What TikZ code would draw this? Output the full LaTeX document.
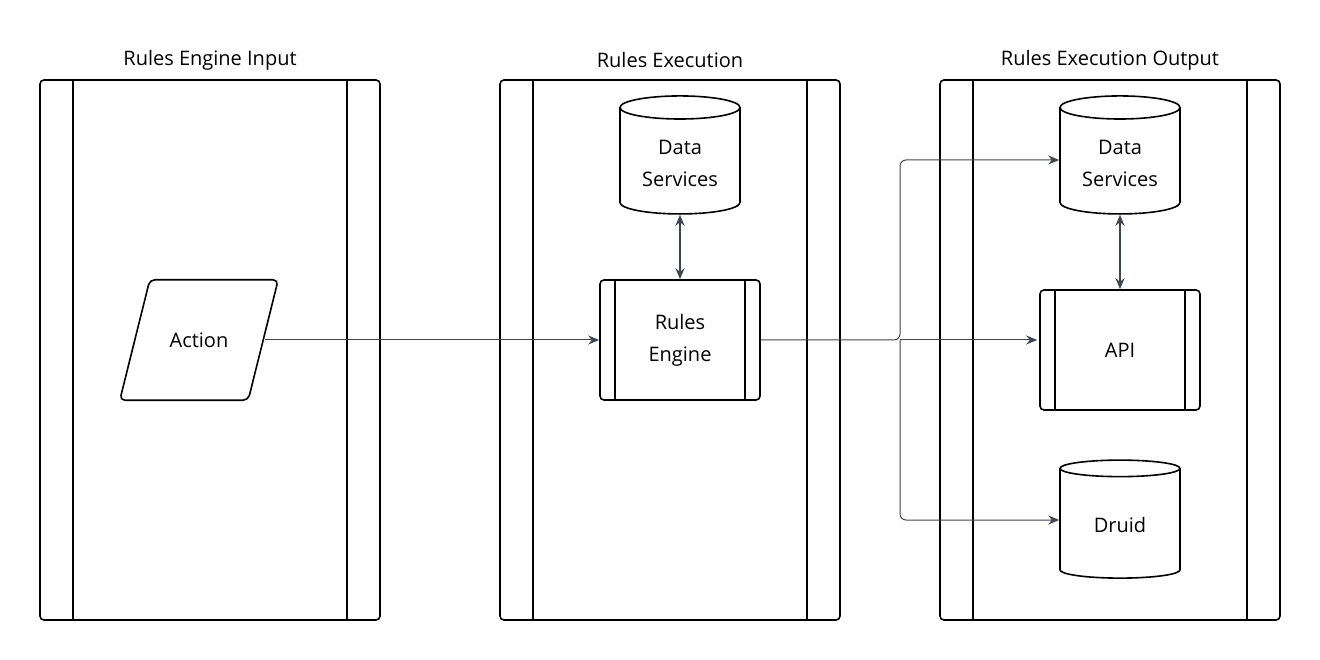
\documentclass[tikz,border=0pt]{standalone}
\usepackage{fontspec}
\setmainfont{Open Sans}
\usetikzlibrary{arrows.meta, positioning, shapes.geometric}
\definecolor{linegray}{HTML}{3F4450}
\tikzset{
	lane/.style={draw, line width=1.6pt, rounded corners=4pt, minimum width=340pt, minimum height=540pt},
	title/.style={font=\fontsize{20}{24}\selectfont},
	store/.style={draw, line width=1.6pt, cylinder, shape border rotate=90, aspect=0.28, minimum width=120pt, minimum height=118pt, align=center, font=\fontsize{20}{32}\selectfont},
	proc/.style={draw, line width=1.6pt, rounded corners=4pt, minimum width=160pt, minimum height=120pt, align=center, font=\fontsize{20}{32}\selectfont},
	flow/.style={draw=linegray, line width=1pt, -{Stealth[length=11pt,width=9pt]}},
	link/.style={draw=linegray, line width=1.4pt, {Stealth[length=11pt,width=9pt]}-{Stealth[length=11pt,width=9pt]}}
}
\begin{document}
\begin{tikzpicture}[x=1pt, y=-1pt]
\useasboundingbox (0,0) rectangle (1320,660);

% lanes
\foreach \n/\x/\t in {inp/210/Rules Engine Input, exe/670/Rules Execution, out/1110/Rules Execution Output} {
	\node [lane] (\n) at (\x,350) {};
	\draw [line width=1.6pt] ([xshift=34pt]\n.north west) -- ([xshift=34pt]\n.south west);
	\draw [line width=1.6pt] ([xshift=-34pt]\n.north east) -- ([xshift=-34pt]\n.south east);
	\node [title] at (\x,60) {\t};
}

% input
\node [font=\fontsize{20}{24}\selectfont, minimum width=100pt, minimum height=120pt] (action) at (199,340) {Action};
\draw [line width=1.6pt, rounded corners=5pt] ([xshift=1pt]action.north west) -- ([xshift=29pt]action.north east)
	-- ([xshift=-1pt]action.south east) -- ([xshift=-29pt]action.south west) -- cycle;

% execution
\node [store] (data1) at (680,163) {Data\\Services};
\node [proc] (engine) at (680,340) {Rules\\Engine};
\draw [line width=1.6pt] ([xshift=16pt]engine.north west) -- ([xshift=16pt]engine.south west);
\draw [line width=1.6pt] ([xshift=-16pt]engine.north east) -- ([xshift=-16pt]engine.south east);

% output
\node [store] (data2) at (1120,163) {Data\\Services};
\node [proc] (api) at (1120,350) {API};
\draw [line width=1.6pt] ([xshift=16pt]api.north west) -- ([xshift=16pt]api.south west);
\draw [line width=1.6pt] ([xshift=-16pt]api.north east) -- ([xshift=-16pt]api.south east);
\node [store] (druid) at (1120,525) {Druid};

\coordinate (split) at (900,340);

\path [flow] ([xshift=16pt]action.east) -- (engine.west);
\path [link] (data1.south) -- (engine.north);
\path [link] (data2.south) -- (api.north);
\path [flow, rounded corners=6pt] (engine.east) -- (split) |- ([yshift=3pt]data2.west);
\path [flow] (split) -- ([xshift=-2pt]split -| api.west);
\path [flow, rounded corners=6pt] (split) |- ([yshift=5pt]druid.west);

\end{tikzpicture}
\end{document}
